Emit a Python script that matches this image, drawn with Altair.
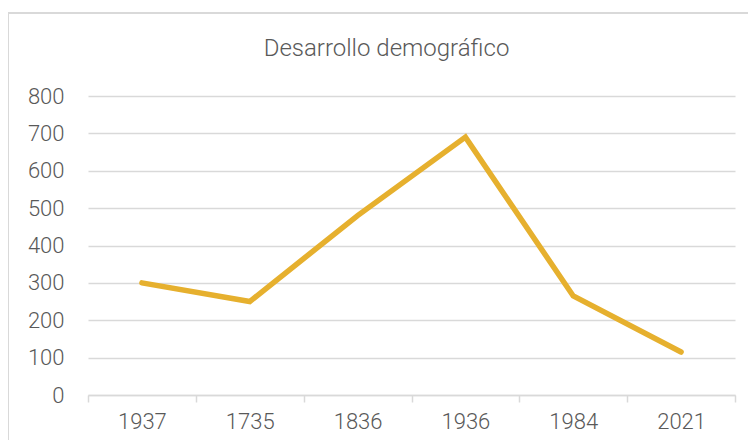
import altair as alt
import pandas as pd

years = ["1937", "1735", "1836", "1936", "1984", "2021"]
values = [300, 250, 480, 690, 265, 115]
title_text = "Desarrollo demográfico"

df = pd.DataFrame({"Año": years, "Valor": values})

W, H = 647, 299
grey = "#d9d9d9"
txt = "#595959"
font = "Roboto"

one = pd.DataFrame({"t": [title_text]})

frame = alt.Chart(one).mark_rect(
    fill=None, stroke=grey, strokeWidth=2
).encode(
    x=alt.value(-80), x2=alt.value(W + 60),
    y=alt.value(-83), y2=alt.value(H + 80),
)

title = alt.Chart(one).mark_text(
    font=font, fontSize=24, fontWeight=300, color=txt, align="center", baseline="middle"
).encode(
    text="t:N", x=alt.value(W / 2 - 25), y=alt.value(-47)
)

line = alt.Chart(df).mark_line(color="#E6B02E", strokeWidth=5.5, strokeCap="round").encode(
    x=alt.X("Año:N", sort=None, bandPosition=0.5,
            scale=alt.Scale(type="band", paddingInner=0, paddingOuter=0),
            axis=alt.Axis(title=None, labelAngle=0, tickBand="extent", tickSize=7,
                          tickColor=grey, tickWidth=1.5, domainColor=grey, domainWidth=1.5,
                          labelPadding=9, grid=False)),
    y=alt.Y("Valor:Q", scale=alt.Scale(domain=[0, 800], nice=False),
            axis=alt.Axis(title=None, values=list(range(0, 801, 100)), ticks=False, domain=False,
                          labelPadding=24, gridColor=grey, gridWidth=1.5)),
)

chart = alt.layer(line, frame, title).properties(
    width=W, height=H,
    autosize=alt.AutoSizeParams(type="none"),
    padding={"left": 80, "top": 88, "right": 13, "bottom": 45},
).configure_view(stroke=None).configure_axis(
    labelFont=font, labelFontSize=22, labelFontWeight=300, labelColor=txt
)

chart.save("out.html", embed_options={"renderer": "svg", "actions": False})
